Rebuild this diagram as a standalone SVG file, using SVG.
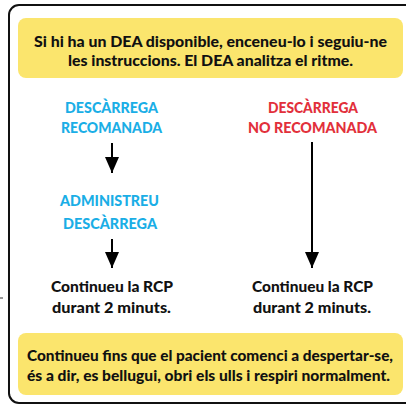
<svg xmlns="http://www.w3.org/2000/svg" width="406" height="404" viewBox="0 0 406 404">
<style>
text{font-family:Lato,"Open Sans","Liberation Sans",sans-serif;font-weight:900;font-size:15.5px;text-anchor:start}
.k{fill:#111}
.b{fill:#1aaee6}
.r{fill:#e2303b}
.box{fill:#fbe56d}
.ar{stroke:#000;stroke-width:2;fill:none}
</style>
<defs>
<marker id="ah" markerWidth="17" markerHeight="14" refX="16" refY="7" orient="auto" markerUnits="userSpaceOnUse" viewBox="0 0 17 14">
<path d="M0,0 L16,7 L0,14 Z" fill="#000"/>
</marker>
</defs>
<rect x="0" y="0" width="406" height="404" fill="#fff"/>
<rect id="frame" x="9" y="5" width="420" height="398" rx="10" fill="none" stroke="#111" stroke-width="2"/>
<line x1="0" y1="298" x2="3" y2="298" stroke="#333" stroke-width="1"/>
<g id="top">
<rect class="box" x="18" y="18" width="385" height="60" rx="8"/>
<text class="k" x="34" y="47" textLength="353" lengthAdjust="spacingAndGlyphs">Si hi ha un DEA disponible, enceneu-lo i seguiu-ne</text>
<text class="k" x="68" y="66" textLength="285" lengthAdjust="spacingAndGlyphs">les instruccions. El DEA analitza el ritme.</text>
</g>
<g id="rec">
<text class="b" x="65" y="113" textLength="93" lengthAdjust="spacingAndGlyphs">DESCÀRREGA</text>
<text class="b" x="61" y="133" textLength="101" lengthAdjust="spacingAndGlyphs">RECOMANADA</text>
</g>
<g id="norec">
<text class="r" x="268" y="113" textLength="90" lengthAdjust="spacingAndGlyphs">DESCÀRREGA</text>
<text class="r" x="248" y="133" textLength="129" lengthAdjust="spacingAndGlyphs">NO RECOMANADA</text>
</g>
<g id="admin">
<text class="b" x="60" y="206" textLength="99" lengthAdjust="spacingAndGlyphs">ADMINISTREU</text>
<text class="b" x="63" y="229" textLength="94" lengthAdjust="spacingAndGlyphs">DESCÀRREGA</text>
</g>
<g id="rcp1">
<text class="k" x="51" y="292" textLength="122" lengthAdjust="spacingAndGlyphs">Continueu la RCP</text>
<text class="k" x="52" y="313" textLength="119" lengthAdjust="spacingAndGlyphs">durant 2 minuts.</text>
</g>
<g id="rcp2">
<text class="k" x="252" y="292" textLength="121" lengthAdjust="spacingAndGlyphs">Continueu la RCP</text>
<text class="k" x="253" y="313" textLength="118" lengthAdjust="spacingAndGlyphs">durant 2 minuts.</text>
</g>
<g id="bottom">
<rect class="box" x="18" y="333" width="385" height="62" rx="8"/>
<text class="k" x="27" y="361" textLength="366" lengthAdjust="spacingAndGlyphs">Continueu fins que el pacient comenci a despertar-se,</text>
<text class="k" x="27" y="381" textLength="363" lengthAdjust="spacingAndGlyphs">és a dir, es bellugui, obri els ulls i respiri normalment.</text>
</g>
<g id="connectors">
<line class="ar" x1="112" y1="143" x2="112" y2="173" marker-end="url(#ah)"/>
<line class="ar" x1="112" y1="239" x2="112" y2="268" marker-end="url(#ah)"/>
<line class="ar" x1="312" y1="142" x2="312" y2="268" marker-end="url(#ah)"/>
</g>
</svg>
